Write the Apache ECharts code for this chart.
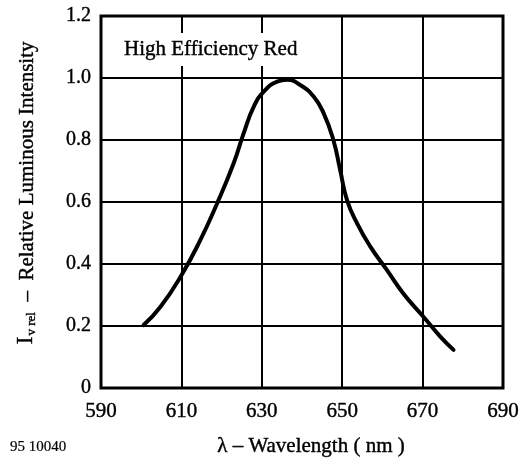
<!DOCTYPE html>
<html>
<head>
<meta charset="utf-8">
<script src="https://cdn.jsdelivr.net/npm/echarts@6/dist/echarts.min.js"></script>
<style>
  html, body { margin: 0; padding: 0; background: #fff; }
  #chart { width: 529px; height: 458px; }
</style>
</head>
<body>
<div id="chart"></div>
<script>
// Relative luminous intensity vs. wavelength, high efficiency red LED
const wavelengths = [600.6, 604.8, 609.8, 614.7, 618.9, 623.0, 625.5, 628.0, 630.5, 633.8, 636.3, 639.6, 642.9, 645.4, 647.8, 649.5, 651.2, 653.7, 657.0, 661.1, 665.2, 670.2, 674.4, 677.7];
const intensity   = [0.203, 0.262, 0.359, 0.477, 0.596, 0.725, 0.822, 0.908, 0.956, 0.988, 0.994, 0.977, 0.940, 0.886, 0.800, 0.703, 0.606, 0.531, 0.456, 0.381, 0.305, 0.230, 0.166, 0.123];
const xTicks = [590, 610, 630, 650, 670, 690];
const yTicks = [0, 0.2, 0.4, 0.6, 0.8, 1.0, 1.2];

const serif = 'Liberation Serif';
// slight outline gives the printed type its heavier weight
const axisInk = { textBorderColor: '#000', textBorderWidth: 0.4 };
const textInk = { stroke: '#000', lineWidth: 0.4 };
const chart = echarts.init(document.getElementById('chart'));

chart.setOption({
  animation: false,
  backgroundColor: '#fff',
  grid: {
    left: 101, right: 26, top: 16, bottom: 70,
    show: true, borderColor: '#000', borderWidth: 3, backgroundColor: 'transparent'
  },
  xAxis: {
    type: 'value',
    min: xTicks[0], max: xTicks[xTicks.length - 1], interval: xTicks[1] - xTicks[0],
    axisLine: { show: false },
    axisTick: { show: false },
    splitLine: { show: true, lineStyle: { color: '#000', width: 2 } },
    axisLabel: Object.assign({ color: '#000', fontFamily: serif, fontSize: 21, margin: 13 }, axisInk)
  },
  yAxis: {
    type: 'value',
    min: yTicks[0], max: yTicks[yTicks.length - 1], interval: yTicks[1] - yTicks[0],
    axisLine: { show: false },
    axisTick: { show: false },
    splitLine: { show: true, lineStyle: { color: '#000', width: 2 } },
    axisLabel: Object.assign({
      color: '#000', fontFamily: serif, fontSize: 20, margin: 10,
      formatter: v => (v === 0 ? '0' : v.toFixed(1))
    }, axisInk)
  },
  series: [{
    type: 'line',
    data: wavelengths.map((w, i) => [w, intensity[i]]),
    smooth: 0.5,
    showSymbol: false,
    lineStyle: { color: '#000', width: 4, cap: 'round' },
    z: 3
  }],
  graphic: [
    {
      type: 'text', left: 117, top: 33, z: 10,
      style: Object.assign({
        text: 'High Efficiency Red', fill: '#000', font: '21px ' + serif,
        backgroundColor: '#fff', padding: [6, 7, 6, 7]
      }, textInk)
    },
    {
      type: 'text', left: 217, top: 436,
      style: Object.assign({ text: 'λ – Wavelength ( nm )', fill: '#000', font: '21px ' + serif }, textInk)
    },
    {
      type: 'text', left: 10, top: 439,
      style: { text: '95 10040', fill: '#000', font: '15px ' + serif, stroke: '#000', lineWidth: 0.2 }
    },
    {
      type: 'text', x: 26, y: 193, rotation: Math.PI / 2,
      style: {
        text: '{i|I}{s|v rel}{t|  –  Relative Luminous Intensity}',
        align: 'center', verticalAlign: 'middle',
        rich: {
          i: Object.assign({ fontFamily: serif, fontSize: 24, fill: '#000', verticalAlign: 'bottom' }, textInk),
          s: Object.assign({ fontFamily: serif, fontSize: 13, fill: '#000', verticalAlign: 'bottom', padding: [0, 0, 0, 1] }, textInk),
          t: Object.assign({ fontFamily: serif, fontSize: 21, fill: '#000', verticalAlign: 'bottom' }, textInk)
        }
      }
    }
  ]
});
</script>
</body>
</html>
